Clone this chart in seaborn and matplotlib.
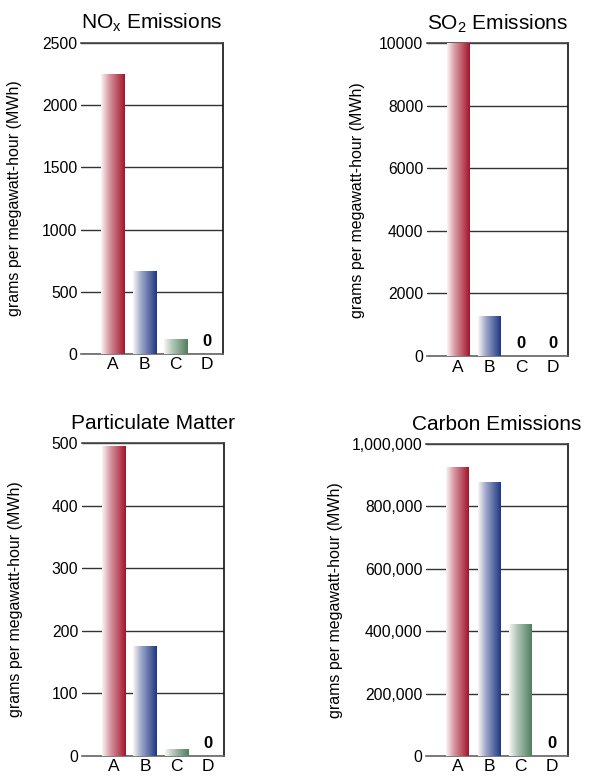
#!/usr/bin/env python3
# -*- coding: utf-8 -*-
"""Emissions per MWh for four generation options, one panel per pollutant."""

import numpy as np
import pandas as pd
import seaborn as sns
import matplotlib.pyplot as plt
from matplotlib.colors import LinearSegmentedColormap

# %% Data

lst_cat = ['A', 'B', 'C', 'D']

ary_nox = [2250, 670, 120, 0]
ary_so2 = [10000, 1280, 0, 0]
ary_pm = [495, 175, 11, 0]
ary_carbon = [925000, 878000, 423000, 0]

lst_titles = [r'NO$_\mathregular{x}$ Emissions', r'SO$_\mathregular{2}$ Emissions',
              'Particulate Matter', 'Carbon Emissions']

lst_ticks = [[0, 500, 1000, 1500, 2000, 2500],
             [0, 2000, 4000, 6000, 8000, 10000],
             [0, 100, 200, 300, 400, 500],
             [0, 200000, 400000, 600000, 800000, 1000000]]
lst_ticklabels = [['0', '500', '1000', '1500', '2000', '2500'],
                  ['0', '2000', '4000', '6000', '8000', '10000'],
                  ['0', '100', '200', '300', '400', '500'],
                  ['0', '200,000', '400,000', '600,000', '800,000', '1,000,000']]

str_ylabel = 'grams per megawatt-hour (MWh)'

# bar colours (right edge of the gradient)
lst_colors = ['#a3142b', '#1f3783', '#4f7f5e', '#888888']

# axes rectangles in figure fraction and y-label x position (axes fraction)
lst_rect = [[0.1332, 0.5438, 0.2336, 0.4008],
            [0.7018, 0.5412, 0.2329, 0.4030],
            [0.1344, 0.0262, 0.2340, 0.4026],
            [0.7007, 0.0258, 0.2331, 0.4020]]
lst_lbl_x = [-0.415, -0.436, -0.41, -0.586]

# %% Plot

sns.set_style('white')
plt.rcParams['font.family'] = ['Liberation Sans', 'DejaVu Sans']
plt.rcParams['mathtext.default'] = 'regular'
plt.rcParams['text.color'] = 'black'
plt.rcParams['axes.labelcolor'] = 'black'

fig = plt.figure(figsize=(6.08, 7.76), dpi=100)

lst_vals = [ary_nox, ary_so2, ary_pm, ary_carbon]

for ind in range(4):
    ax = fig.add_axes(lst_rect[ind])
    df = pd.DataFrame({'cat': lst_cat, 'val': lst_vals[ind]})
    sns.barplot(data=df, x='cat', y='val', hue='cat', palette=lst_colors,
                width=0.73, legend=False, ax=ax, zorder=3)

    # gradient fill: pale on the left, full colour on the right
    ary_grad = np.linspace(0, 1, 256).reshape(1, -1)
    for patch, col in zip(ax.patches, lst_colors):
        patch.set_facecolor('none')
        patch.set_edgecolor('none')
        h = patch.get_height()
        if h <= 0:
            continue
        cmap = LinearSegmentedColormap.from_list(
            'g', [(0.0, '#fbf5f6'), (0.35, sns.blend_palette(['#ffffff', col], 10)[4]),
                  (1.0, col)])
        x0 = patch.get_x()
        w = patch.get_width()
        img = ax.imshow(ary_grad, cmap=cmap, aspect='auto',
                        extent=[x0, x0 + w, 0, h], zorder=4)
        img.set_clip_path(patch)

    ymax = lst_ticks[ind][-1]
    ax.set_xlim(-1, 3.5)
    ax.set_ylim(0, ymax)
    ax.set_yticks(lst_ticks[ind])
    ax.set_yticklabels(lst_ticklabels[ind])
    ax.tick_params(axis='both', length=0, colors='black')
    ax.tick_params(axis='y', pad=2.5, labelsize=11.3)
    ax.tick_params(axis='x', pad=2.5, labelsize=12.5)
    ax.set_xlabel('')
    ax.set_ylabel(str_ylabel, fontsize=11.5)
    ax.yaxis.set_label_coords(lst_lbl_x[ind], 0.5)
    ax.set_title(lst_titles[ind], fontsize=15, pad=10)

    ax.grid(axis='y', color='#333333', linewidth=1.0, zorder=1)
    ax.grid(axis='x', visible=False)
    ax.set_axisbelow(True)
    ax.spines['left'].set_visible(False)
    ax.spines['top'].set_color('#444444')
    ax.spines['bottom'].set_color('#666666')
    ax.spines['right'].set_color('#111111')
    for side in ['top', 'bottom', 'right']:
        ax.spines[side].set_linewidth(1.2)

    # zero markers
    for pos, val in enumerate(lst_vals[ind]):
        if val == 0:
            ax.annotate('0', (pos, 0), xytext=(0, 3.5), textcoords='offset points',
                        ha='center', va='bottom', fontsize=12, fontweight='bold')

fig.savefig('out.png', dpi=100)
